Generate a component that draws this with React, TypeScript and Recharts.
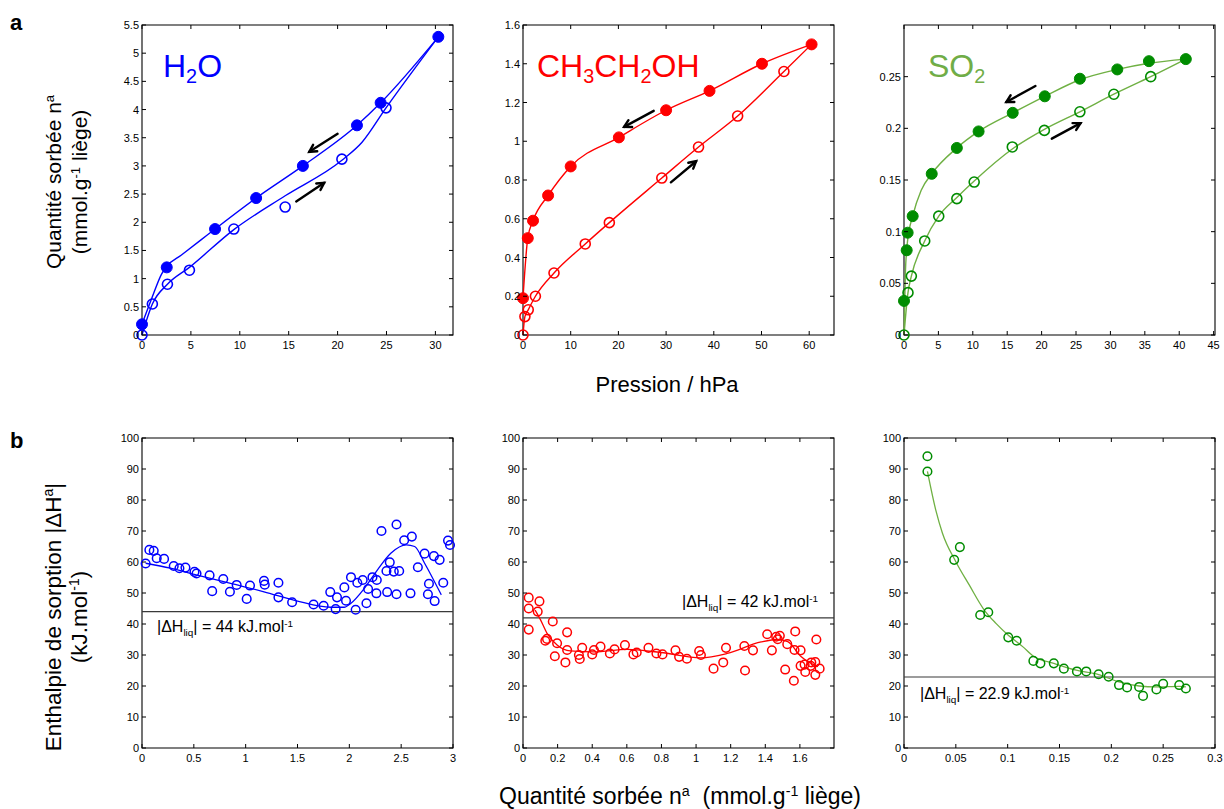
import React from 'react';
import { ComposedChart, Line, Scatter, XAxis, YAxis, ReferenceLine, ReferenceArea } from 'recharts';

type Pt = { x: number; y: number };
const toPts = (a: number[][]): Pt[] => a.map(([x, y]) => ({ x, y }));

// ---------- Top row: sorption isotherms (pressure hPa, quantity mmol/g) ----------
const h2oDes = [[0, 0.19], [2.53, 1.2], [7.47, 1.88], [11.67, 2.43], [16.45, 3.0], [21.98, 3.72], [24.4, 4.12], [30.3, 5.29]];
const h2oAds = [[0, 0], [1.06, 0.55], [2.6, 0.9], [4.85, 1.15], [9.39, 1.88], [14.64, 2.27], [20.44, 3.12], [24.95, 4.03]];
const h2oDesFit = [[0, 0.19], [1.0, 0.65], [2.0, 1.08], [2.53, 1.22], [4.0, 1.416], [6.0, 1.683], [7.47, 1.88], [11.67, 2.43], [16.45, 3.0], [21.98, 3.72], [24.4, 4.12], [30.3, 5.29]];
const h2oAdsFit = [[0, 0], [1.06, 0.55], [2.6, 0.9], [4.85, 1.2], [9.39, 1.87], [14.64, 2.47], [20.44, 3.1], [22.5, 3.42], [24.95, 4.03], [30.3, 5.29]];

const etDes = [[0, 0.19], [1.0, 0.5], [2.1, 0.59], [5.26, 0.72], [10.0, 0.87], [20.1, 1.02], [30.0, 1.16], [39.1, 1.26], [50.1, 1.4], [60.5, 1.5]];
const etAds = [[0, 0], [0.4, 0.095], [1.1, 0.13], [2.6, 0.2], [6.5, 0.32], [13.05, 0.47], [18.1, 0.58], [29.1, 0.81], [36.8, 0.97], [45.0, 1.13], [54.7, 1.36]];
const etDesFit = [[0, 0.19], [1.0, 0.5], [2.1, 0.59], [5.26, 0.72], [10.0, 0.87], [20.1, 1.02], [30.0, 1.16], [39.1, 1.26], [50.1, 1.4], [60.5, 1.5]];
const etAdsFit = [[0, 0], [0.4, 0.095], [1.1, 0.13], [2.6, 0.2], [6.5, 0.32], [13.05, 0.47], [18.1, 0.58], [29.1, 0.81], [36.8, 0.97], [45.0, 1.13], [54.7, 1.36], [60.5, 1.5]];

const so2Des = [[0, 0.033], [0.39, 0.082], [0.53, 0.099], [1.26, 0.115], [4.03, 0.156], [7.68, 0.181], [10.84, 0.197], [15.8, 0.215], [20.46, 0.231], [25.56, 0.248], [31.0, 0.257], [35.6, 0.265], [40.96, 0.267]];
const so2Ads = [[0, 0], [0.58, 0.041], [1.07, 0.057], [3.01, 0.091], [5.05, 0.115], [7.68, 0.132], [10.2, 0.148], [15.74, 0.182], [20.4, 0.198], [25.56, 0.216], [30.5, 0.233], [35.86, 0.25]];
const so2DesFit = [[0, 0], [0.2, 0.06], [0.5, 0.09], [1.26, 0.115], [2.5, 0.14], [4.03, 0.156], [7.68, 0.181], [10.84, 0.197], [15.8, 0.215], [20.46, 0.231], [25.56, 0.247], [31.0, 0.257], [35.6, 0.263], [40.96, 0.267]];
const so2AdsFit = [[0, 0], [0.58, 0.041], [1.07, 0.057], [3.01, 0.091], [5.05, 0.115], [7.68, 0.133], [10.2, 0.149], [15.74, 0.18], [20.4, 0.199], [25.56, 0.216], [30.5, 0.233], [35.86, 0.25], [40.96, 0.267]];

// arrows: [fromX, fromY, toX, toY]
const h2oArrows = [[20.0, 3.57, 17.1, 3.25], [15.77, 2.37, 18.63, 2.7]];
const etArrows = [[27.4, 1.157, 21.2, 1.074], [31.0, 0.788, 36.3, 0.897]];
const so2Arrows = [[19.1, 0.241, 14.87, 0.2255], [21.48, 0.19, 25.66, 0.205]];

// ---------- Bottom row: sorption enthalpy vs quantity ----------
const h2oH = [[0.035, 59.5], [0.071, 63.9], [0.113, 63.6], [0.142, 61.2], [0.213, 61.0], [0.306, 58.7], [0.361, 58.0], [0.419, 58.2], [0.506, 56.8], [0.526, 56.3], [0.652, 55.7], [0.677, 50.6], [0.784, 54.5], [0.848, 50.4], [0.913, 52.6], [1.01, 48.1], [1.042, 52.4], [1.177, 53.9], [1.184, 52.7], [1.316, 53.3], [1.316, 48.6], [1.448, 47.0], [1.655, 46.3], [1.752, 45.9], [1.816, 50.3], [1.868, 44.8], [1.881, 48.6], [1.952, 51.8], [1.968, 47.5], [2.016, 55.1], [2.061, 44.6], [2.077, 53.3], [2.129, 54.2], [2.165, 46.7], [2.181, 51.3], [2.223, 55.1], [2.261, 49.9], [2.265, 54.2], [2.31, 70.0], [2.358, 57.1], [2.365, 50.3], [2.39, 59.9], [2.429, 56.9], [2.455, 72.1], [2.455, 49.6], [2.481, 57.1], [2.529, 67.0], [2.59, 49.9], [2.603, 68.2], [2.661, 58.3], [2.726, 62.7], [2.758, 49.6], [2.768, 53.0], [2.816, 61.9], [2.823, 47.4], [2.871, 60.7], [2.906, 53.3], [2.952, 66.9], [2.971, 65.5]];
const h2oHFit = [[0.035, 59.6], [0.274, 58.0], [0.532, 55.8], [0.855, 53.1], [1.177, 50.4], [1.5, 47.4], [1.82, 45.4], [1.95, 45.4], [2.016, 46.7], [2.145, 51.5], [2.27, 57.4], [2.4, 62.8], [2.55, 65.5], [2.63, 65.0], [2.726, 59.6], [2.887, 49.4]];
const h2oLiq = 44;

const etH = [[0.033, 48.5], [0.033, 45.0], [0.033, 38.2], [0.085, 44], [0.095, 47.3], [0.172, 40.8], [0.129, 34.6], [0.139, 35.2], [0.197, 33.8], [0.184, 29.6], [0.255, 37.3], [0.245, 27.6], [0.255, 31.6], [0.323, 30.0], [0.328, 28.7], [0.342, 32.3], [0.4, 30.2], [0.41, 31.6], [0.448, 32.7], [0.502, 30.5], [0.529, 31.8], [0.589, 33.2], [0.638, 30.2], [0.657, 30.8], [0.725, 32.3], [0.771, 30.5], [0.806, 30.2], [0.881, 31.5], [0.902, 29.4], [0.947, 28.8], [1.018, 31.3], [1.028, 30.0], [1.101, 25.6], [1.157, 27.6], [1.173, 32.3], [1.279, 32.9], [1.283, 25.0], [1.329, 31.5], [1.411, 36.7], [1.438, 31.5], [1.463, 35.9], [1.472, 35.1], [1.484, 36.2], [1.527, 33.5], [1.515, 25.3], [1.565, 21.7], [1.573, 37.6], [1.569, 31.6], [1.604, 31.5], [1.604, 26.5], [1.627, 26.9], [1.631, 24.5], [1.666, 27.6], [1.662, 26.5], [1.689, 27.7], [1.689, 23.6], [1.695, 35.0], [1.714, 25.6]];
const etHFit = [[0.07, 44.5], [0.1, 41.5], [0.139, 37], [0.197, 33.2], [0.274, 31.3], [0.41, 31.0], [0.603, 31.8], [0.796, 30.8], [1.028, 29.1], [1.18, 30.5], [1.376, 34.2], [1.472, 35.0], [1.53, 34.3], [1.608, 29.4], [1.704, 26.2]];
const etLiq = 42;

const so2H = [[0.0226, 94.1], [0.0226, 89.2], [0.0484, 60.7], [0.0539, 64.8], [0.0735, 42.9], [0.0813, 43.8], [0.1006, 35.7], [0.1087, 34.6], [0.1248, 28.1], [0.1316, 27.3], [0.1445, 27.3], [0.1542, 25.6], [0.1668, 24.7], [0.1758, 24.7], [0.1877, 23.8], [0.1974, 23.0], [0.2074, 20.3], [0.2152, 19.5], [0.2268, 19.7], [0.2306, 16.8], [0.2435, 18.9], [0.25, 20.7], [0.2655, 20.3], [0.2719, 19.2]];
const so2HFit = [[0.0226, 89.2], [0.0306, 76.8], [0.0371, 69.3], [0.05, 60.1], [0.0629, 52.6], [0.0774, 44.5], [0.0887, 40.2], [0.1006, 36.4], [0.1145, 32.7], [0.1248, 29.6], [0.1445, 27.3], [0.1661, 25.1], [0.1877, 23.7], [0.2074, 21.3], [0.2268, 20.0], [0.2435, 19.7], [0.2655, 19.9], [0.2719, 19.7]];
const so2Liq = 22.9;

// ---------- axes ----------
const h2oPX = [0, 5, 10, 15, 20, 25, 30];
const h2oPY = [0, 0.5, 1, 1.5, 2, 2.5, 3, 3.5, 4, 4.5, 5, 5.5];
const etPX = [0, 10, 20, 30, 40, 50, 60];
const etPY = [0, 0.2, 0.4, 0.6, 0.8, 1, 1.2, 1.4, 1.6];
const so2PX = [0, 5, 10, 15, 20, 25, 30, 35, 40, 45];
const so2PY = [0, 0.05, 0.1, 0.15, 0.2, 0.25];
const hY = [0, 10, 20, 30, 40, 50, 60, 70, 80, 90, 100];
const h2oNX = [0, 0.5, 1, 1.5, 2, 2.5, 3];
const etNX = [0, 0.2, 0.4, 0.6, 0.8, 1, 1.2, 1.4, 1.6];
const so2NX = [0, 0.05, 0.1, 0.15, 0.2, 0.25, 0.3];

const BLUE = '#0000ff';
const RED = '#ff0000';
const GREEN_PT = '#008c00';
const GREEN_LN = '#6fb043';
const GREEN_TXT = '#70ad47';

const FONT = "Arial, 'Liberation Sans', Helvetica, sans-serif";
const PW = 311, PH = 310, YW = 30, XH = 20, MT = 5, MR = 10;

const makeXTick = () => (p: any) => {
  const { x, y, payload } = p;
  return (
    <g>
      <line x1={x} y1={y} x2={x} y2={y - 4} stroke="#000" strokeWidth={1} />
      <line x1={x} y1={y - PH} x2={x} y2={y - PH + 4} stroke="#000" strokeWidth={1} />
      <text x={x} y={y + 14} textAnchor="middle" fontSize={11} fontFamily={FONT} fill="#000">{String(payload.value)}</text>
    </g>
  );
};
const makeYTick = () => (p: any) => {
  const { x, y, payload } = p;
  return (
    <g>
      <line x1={x} y1={y} x2={x + 4} y2={y} stroke="#000" strokeWidth={1} />
      <line x1={x + PW} y1={y} x2={x + PW - 4} y2={y} stroke="#000" strokeWidth={1} />
      <text x={x - 3} y={y + 4} textAnchor="end" fontSize={11} fontFamily={FONT} fill="#000">{String(payload.value)}</text>
    </g>
  );
};

const ArrowShape = (p: any) => {
  const { x1, y1, x2, y2 } = p;
  const ang = Math.atan2(y2 - y1, x2 - x1);
  const L = 8, s = 0.5;
  const ax = x2 - L * Math.cos(ang - s), ay = y2 - L * Math.sin(ang - s);
  const bx = x2 - L * Math.cos(ang + s), by = y2 - L * Math.sin(ang + s);
  return (
    <g>
      <line x1={x1} y1={y1} x2={x2} y2={y2} stroke="#000" strokeWidth={2.4} strokeLinecap="round" />
      <polyline points={`${ax},${ay} ${x2},${y2} ${bx},${by}`} fill="none" stroke="#000" strokeWidth={2.4} strokeLinecap="round" strokeLinejoin="miter" />
    </g>
  );
};

const dot = (r: number, color: string, filled: boolean, sw = 1.5) => (p: any) => (
  <circle cx={p.cx} cy={p.cy} r={r} fill={filled ? color : 'none'} stroke={color} strokeWidth={filled ? 1 : sw} />
);

function Panel(props: { left: number; top: number; xDomain: number[]; yDomain: number[]; xTicks: number[]; yTicks: number[]; children: React.ReactNode }) {
  const { left, top, xDomain, yDomain, xTicks, yTicks, children } = props;
  return (
    <div style={{ position: 'absolute', left: left - YW, top: top - MT }}>
      <ComposedChart width={PW + YW + MR} height={PH + MT + XH} margin={{ top: MT, right: MR, bottom: 0, left: 0 }}>
        <XAxis type="number" dataKey="x" domain={xDomain} ticks={xTicks} interval={0} tickLine={false} axisLine={false} tickSize={0} tickMargin={0} height={XH} tick={makeXTick()} />
        <YAxis type="number" dataKey="y" domain={yDomain} ticks={yTicks} interval={0} tickLine={false} axisLine={false} tickSize={0} tickMargin={0} width={YW} tick={makeYTick()} />
        <ReferenceArea x1={xDomain[0]} x2={xDomain[1]} y1={yDomain[0]} y2={yDomain[1]} fill="none" fillOpacity={0} stroke="#000" strokeWidth={1.1} ifOverflow="visible" />
        {children}
      </ComposedChart>
    </div>
  );
}

const fitLine = (data: number[][], color: string, key: string, w = 1.4) => (
  <Line key={key} data={toPts(data)} dataKey="y" type="monotone" stroke={color} strokeWidth={w} dot={false} activeDot={false} isAnimationActive={false} />
);
const pts = (data: number[][], shape: any, key: string) => (
  <Scatter key={key} data={toPts(data)} dataKey="y" shape={shape} isAnimationActive={false} />
);
const arrows = (list: number[][], key: string) =>
  list.map((a, i) => (
    <ReferenceLine key={key + i} segment={[{ x: a[0], y: a[1] }, { x: a[2], y: a[3] }]} shape={ArrowShape} ifOverflow="visible" />
  ));
const liqLine = (v: number, key: string) => <ReferenceLine key={key} y={v} stroke="#3a3a3a" strokeWidth={1.2} />;

const Sub = ({ children }: { children: React.ReactNode }) => (
  <span style={{ fontSize: '0.62em', position: 'relative', top: '0.32em' }}>{children}</span>
);
const Sup = ({ children }: { children: React.ReactNode }) => (
  <span style={{ fontSize: '0.62em', position: 'relative', top: '-0.55em' }}>{children}</span>
);

function T(props: { left: number; base: number; fs: number; color?: string; bold?: boolean; center?: boolean; children: React.ReactNode }) {
  const { left, base, fs, color = '#000', bold, center, children } = props;
  return (
    <div style={{ position: 'absolute', left, top: base - 0.8465 * fs, fontSize: fs, lineHeight: `${fs}px`, color, fontFamily: FONT, fontWeight: bold ? 'bold' : 'normal', whiteSpace: 'nowrap', transform: center ? 'translateX(-50%)' : undefined }}>
      {children}
    </div>
  );
}

function RotTitle(props: { cx: number; cy: number; fs: number; children: React.ReactNode }) {
  return (
    <div style={{ position: 'absolute', left: props.cx, top: props.cy, transform: 'translate(-50%,-50%) rotate(-90deg)', fontFamily: FONT, fontSize: props.fs, lineHeight: '23px', textAlign: 'center', whiteSpace: 'nowrap', color: '#000' }}>
      {props.children}
    </div>
  );
}

export default function App() {
  return (
    <div style={{ position: 'absolute', left: 0, top: 0, width: 1224, height: 809, background: '#fff', overflow: 'hidden' }}>
      {/* top row */}
      <Panel left={142} top={25} xDomain={[0, 31.8]} yDomain={[0, 5.5]} xTicks={h2oPX} yTicks={h2oPY}>
        {fitLine(h2oAdsFit, BLUE, 'a1')}
        {fitLine(h2oDesFit, BLUE, 'a2')}
        {pts(h2oAds, dot(5, BLUE, false, 1.6), 'a3')}
        {pts(h2oDes, dot(5.5, BLUE, true), 'a4')}
        {arrows(h2oArrows, 'a5')}
      </Panel>
      <Panel left={523} top={25} xDomain={[0, 65.2]} yDomain={[0, 1.6]} xTicks={etPX} yTicks={etPY}>
        {fitLine(etAdsFit, RED, 'b1')}
        {fitLine(etDesFit, RED, 'b2')}
        {pts(etAds, dot(5, RED, false, 1.6), 'b3')}
        {pts(etDes, dot(5.5, RED, true), 'b4')}
        {arrows(etArrows, 'b5')}
      </Panel>
      <Panel left={904} top={25} xDomain={[0, 45.2]} yDomain={[0, 0.3]} xTicks={so2PX} yTicks={so2PY}>
        {fitLine(so2AdsFit, GREEN_LN, 'c1')}
        {fitLine(so2DesFit, GREEN_LN, 'c2')}
        {pts(so2Ads, dot(5, GREEN_PT, false, 1.6), 'c3')}
        {pts(so2Des, dot(5.5, GREEN_PT, true), 'c4')}
        {arrows(so2Arrows, 'c5')}
      </Panel>

      {/* bottom row */}
      <Panel left={142} top={438} xDomain={[0, 3]} yDomain={[0, 100]} xTicks={h2oNX} yTicks={hY}>
        {liqLine(h2oLiq, 'd0')}
        {fitLine(h2oHFit, BLUE, 'd1', 1.3)}
        {pts(h2oH, dot(4.3, BLUE, false, 1.5), 'd2')}
      </Panel>
      <Panel left={523} top={438} xDomain={[0, 1.797]} yDomain={[0, 100]} xTicks={etNX} yTicks={hY}>
        {liqLine(etLiq, 'e0')}
        {fitLine(etHFit, RED, 'e1', 1.3)}
        {pts(etH, dot(4.3, RED, false, 1.5), 'e2')}
      </Panel>
      <Panel left={904} top={438} xDomain={[0, 0.3]} yDomain={[0, 100]} xTicks={so2NX} yTicks={hY}>
        {liqLine(so2Liq, 'f0')}
        {fitLine(so2HFit, GREEN_LN, 'f1', 1.3)}
        {pts(so2H, dot(4.3, GREEN_PT, false, 1.5), 'f2')}
      </Panel>

      {/* panel letters */}
      <T left={10} base={31} fs={22} bold>a</T>
      <T left={10} base={449} fs={22} bold>b</T>

      {/* gas names */}
      <T left={163} base={77} fs={32} color={BLUE}>H<Sub>2</Sub>O</T>
      <T left={537} base={77} fs={32} color={RED}>CH<Sub>3</Sub>CH<Sub>2</Sub>OH</T>
      <T left={928} base={77} fs={32} color={GREEN_TXT}>SO<Sub>2</Sub></T>

      {/* liquefaction enthalpy labels */}
      <T left={157} base={633} fs={16}>|ΔH<Sub>liq</Sub>| = 44 kJ.mol<Sup>-1</Sup></T>
      <T left={682} base={608} fs={16}>|ΔH<Sub>liq</Sub>| = 42 kJ.mol<Sup>-1</Sup></T>
      <T left={920} base={700} fs={16}>|ΔH<Sub>liq</Sub>| = 22.9 kJ.mol<Sup>-1</Sup></T>

      {/* axis titles */}
      <T left={667} base={393} fs={22} center>Pression / hPa</T>
      <T left={680} base={804} fs={23} center>Quantité sorbée n<Sup>a</Sup>&nbsp;&nbsp;(mmol.g<Sup>-1</Sup> liège)</T>
      <RotTitle cx={68} cy={182} fs={21}>
        Quantité sorbée n<Sup>a</Sup>
        <br />
        (mmol.g<Sup>-1</Sup> liège)
      </RotTitle>
      <RotTitle cx={68} cy={617} fs={22.5}>
        Enthalpie de sorption |ΔH<Sup>a</Sup>|
        <br />
        (kJ.mol<Sup>-1</Sup>)
      </RotTitle>
    </div>
  );
}
